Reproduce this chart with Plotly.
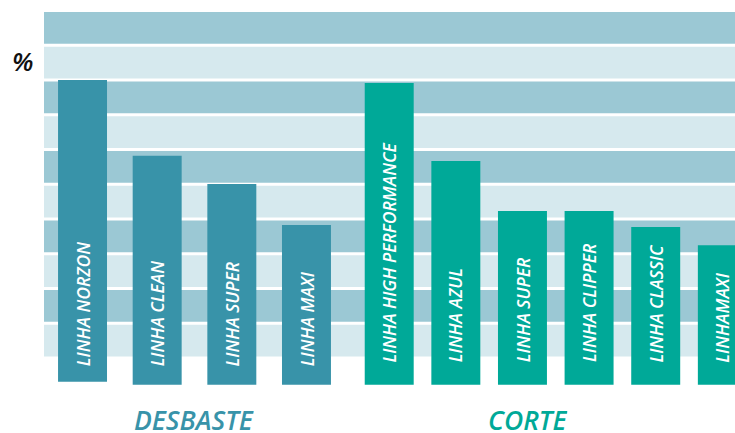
import plotly.graph_objects as go

# ---- data ----
desbaste_labels = ["LINHA NORZON", "LINHA CLEAN", "LINHA SUPER", "LINHA MAXI"]
desbaste_values = [80.4, 58.6, 50.5, 38.7]
desbaste_base = [-6.4, -7.3, -7.3, -7.3]

corte_labels = ["LINHA HIGH PERFORMANCE", "LINHA AZUL", "LINHA SUPER",
                "LINHA CLIPPER", "LINHA CLASSIC", "LINHAMAXI"]
corte_values = [79.6, 57.1, 42.7, 42.7, 38.1, 32.9]
corte_base = [-7.3, -7.3, -7.3, -7.3, -7.3, -7.3]

group_names = ["DESBASTE", "CORTE"]
band_levels = [0, 10, 20, 30, 40, 50, 60, 70, 80, 90, 100]

# ---- style ----
W, H = 735, 433
BLUE = "#3893a9"
GREEN = "#00a998"
DARK_BAND = "#9bc8d4"
LIGHT_BAND = "#d6e9ee"
FONT = "Open Sans"
LABEL_FONT = dict(family=FONT, size=17.5, color="white", style="italic", weight=600)

fig = go.Figure()

fig.add_trace(go.Bar(
    x=desbaste_labels,
    y=[v - b for v, b in zip(desbaste_values, desbaste_base)],
    base=desbaste_base,
    width=0.656,
    marker=dict(color=BLUE, line=dict(width=0)),
    xaxis="x", yaxis="y", hoverinfo="skip",
))
fig.add_trace(go.Bar(
    x=corte_labels,
    y=[v - b for v, b in zip(corte_values, corte_base)],
    base=corte_base,
    width=0.735,
    marker=dict(color=GREEN, line=dict(width=0)),
    xaxis="x2", yaxis="y", hoverinfo="skip",
))

shapes = []
gap = 0.86
for k in range(len(band_levels) - 1):
    lo, hi = band_levels[k], band_levels[k + 1]
    color = LIGHT_BAND if k % 2 == 0 else DARK_BAND
    shapes.append(dict(
        type="rect", xref="paper", yref="y",
        x0=44 / W, x1=1, y0=lo + gap, y1=hi,
        fillcolor=color, line=dict(width=0), layer="below",
    ))

annotations = []
for lab in desbaste_labels:
    annotations.append(dict(
        x=lab, xref="x", y=-2.5, yref="y", yanchor="bottom", xanchor="center",
        text=lab, textangle=-90, showarrow=False, font=LABEL_FONT,
    ))
for lab in corte_labels:
    annotations.append(dict(
        x=lab, xref="x2", y=-1.4, yref="y", yanchor="bottom", xanchor="center",
        text=lab, textangle=-90, showarrow=False, font=LABEL_FONT,
    ))

annotations.append(dict(
    x=193.5 / W, y=1 - 420 / H, xref="paper", yref="paper",
    text=group_names[0], showarrow=False, xanchor="center", yanchor="middle",
    height=24, valign="middle",
    font=dict(family=FONT, size=26.5, color=BLUE, style="italic", weight=600),
))
annotations.append(dict(
    x=527 / W, y=1 - 420 / H, xref="paper", yref="paper",
    text=group_names[1], showarrow=False, xanchor="center", yanchor="middle",
    height=24, valign="middle",
    font=dict(family=FONT, size=26.5, color=GREEN, style="italic", weight=600),
))
annotations.append(dict(
    x=22 / W, y=1 - 61 / H, xref="paper", yref="paper",
    text="%", showarrow=False, xanchor="center", yanchor="middle",
    font=dict(family=FONT, size=26, color="#111111", style="italic", weight=600),
))

fig.update_layout(
    width=W, height=H,
    margin=dict(l=0, r=0, t=0, b=0),
    paper_bgcolor="white", plot_bgcolor="rgba(0,0,0,0)",
    showlegend=False,
    barmode="overlay",
    xaxis=dict(domain=[45.2 / W, 343.8 / W], range=[-0.5, 3.5], type="category",
               visible=False, anchor="y", fixedrange=True),
    xaxis2=dict(domain=[355.9 / W, 1], range=[-0.5, 5.19], type="category",
                visible=False, anchor="y", fixedrange=True),
    yaxis=dict(range=[-21.15, 103.45], visible=False, fixedrange=True),
    shapes=shapes,
    annotations=annotations,
)

fig.write_html(
    "out.html",
    config={"displayModeBar": False},
    post_script="document.body.style.margin='0';document.body.style.overflow='hidden';",
)
